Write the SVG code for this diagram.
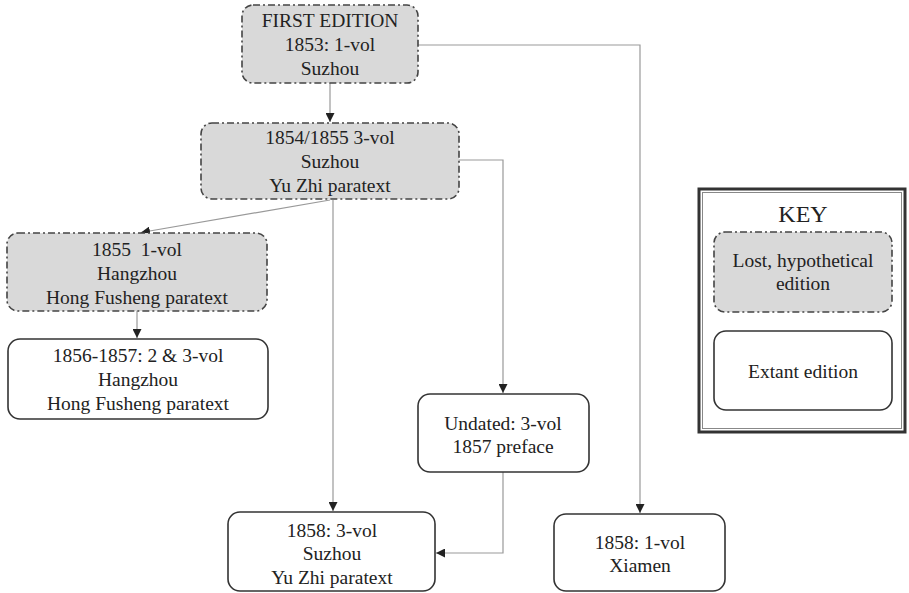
<svg xmlns="http://www.w3.org/2000/svg" width="909" height="593" viewBox="0 0 909 593">
<defs>
<style>
.lost{fill:#d9d9d9;stroke:#444;stroke-width:1.6;stroke-dasharray:7 3 2 3}
.ext{fill:#fff;stroke:#333;stroke-width:1.6}
.t{font-family:"Liberation Serif","Times New Roman",serif;font-size:19.5px;fill:#222;text-anchor:middle}
.k{font-family:"Liberation Serif","Times New Roman",serif;font-size:24px;fill:#222;text-anchor:middle}
.c{fill:none;stroke:#999;stroke-width:1.2}
</style>
<marker id="ah" viewBox="0 0 10 10" refX="10" refY="5" markerWidth="9" markerHeight="9" markerUnits="userSpaceOnUse" orient="auto">
<path d="M0,0 L10,5 L0,10 z" fill="#222"/>
</marker>
</defs>
<rect width="909" height="593" fill="#fff"/>
<g id="connectors">
<path class="c" d="M330,83 V122" marker-end="url(#ah)"/>
<path class="c" d="M418,45 H640 V513" marker-end="url(#ah)"/>
<path class="c" d="M459,160 H503 V393" marker-end="url(#ah)"/>
<path class="c" d="M330,200 L141,232.5" marker-end="url(#ah)"/>
<path class="c" d="M333,200 V511" marker-end="url(#ah)"/>
<path class="c" d="M137,311 V338" marker-end="url(#ah)"/>
<path class="c" d="M503,472 V553 H436" marker-end="url(#ah)"/>
</g>
<g id="n1">
<rect class="lost" x="242" y="5" width="176" height="78" rx="11"/>
<text class="t" x="330" y="27">FIRST EDITION</text>
<text class="t" x="330" y="51">1853: 1-vol</text>
<text class="t" x="330" y="75">Suzhou</text>
</g>
<g id="n2">
<rect class="lost" x="201" y="123" width="258" height="76" rx="11"/>
<text class="t" x="330" y="144">1854/1855 3-vol</text>
<text class="t" x="330" y="168">Suzhou</text>
<text class="t" x="330" y="192">Yu Zhi paratext</text>
</g>
<g id="n3">
<rect class="lost" x="7" y="233" width="260" height="78" rx="11"/>
<text class="t" x="137" y="256" xml:space="preserve">1855  1-vol</text>
<text class="t" x="137" y="280">Hangzhou</text>
<text class="t" x="137" y="304">Hong Fusheng paratext</text>
</g>
<g id="n4">
<rect class="ext" x="8" y="339" width="260" height="80" rx="12"/>
<text class="t" x="138" y="362">1856-1857: 2 &amp; 3-vol</text>
<text class="t" x="138" y="386">Hangzhou</text>
<text class="t" x="138" y="410">Hong Fusheng paratext</text>
</g>
<g id="n5">
<rect class="ext" x="418" y="394" width="171" height="78" rx="12"/>
<text class="t" x="503" y="430">Undated: 3-vol</text>
<text class="t" x="503" y="453">1857 preface</text>
</g>
<g id="n6">
<rect class="ext" x="228" y="512" width="207" height="79" rx="12"/>
<text class="t" x="332" y="537">1858: 3-vol</text>
<text class="t" x="332" y="560">Suzhou</text>
<text class="t" x="332" y="584">Yu Zhi paratext</text>
</g>
<g id="n7">
<rect class="ext" x="554" y="514" width="171" height="77" rx="12"/>
<text class="t" x="640" y="549">1858: 1-vol</text>
<text class="t" x="640" y="572">Xiamen</text>
</g>
<g id="key">
<rect x="699" y="189" width="206" height="243" fill="#fff" stroke="#333" stroke-width="3"/>
<rect x="702.5" y="192.5" width="199" height="236" fill="none" stroke="#888" stroke-width="1"/>
<text class="k" x="803" y="222">KEY</text>
<rect class="lost" x="714" y="232" width="178" height="80" rx="11"/>
<text class="t" x="803" y="267">Lost, hypothetical</text>
<text class="t" x="803" y="290">edition</text>
<rect class="ext" x="714" y="331" width="178" height="79" rx="12"/>
<text class="t" x="803" y="378">Extant edition</text>
</g>
</svg>
